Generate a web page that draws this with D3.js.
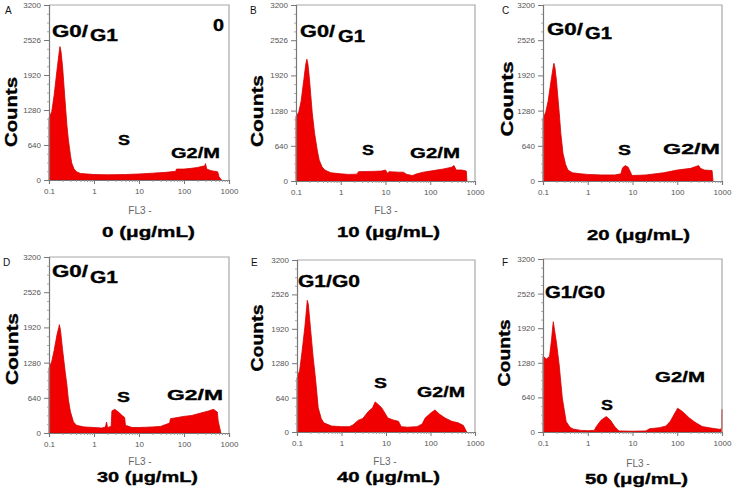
<!DOCTYPE html>
<html><head><meta charset="utf-8">
<script src="https://cdn.jsdelivr.net/npm/d3@7"></script>
<style>
html,body{margin:0;padding:0;background:#fff;}
svg{display:block;}
text{font-family:"Liberation Sans",Arial,sans-serif;}
</style></head>
<body>
<svg id="chart" width="743" height="492"></svg>
<script>
// ---------- data ----------
const fl3A = [0.1,0.1,0.115,0.13,0.15,0.165,0.175,0.185,0.2,0.227,0.25,0.27,0.3,0.32,0.36,0.41,0.5,0.7,1,2,5,10,20,40,66,68,100,150,200,290,300,320,400,560,600,680];
const countsA = [0,1130,1250,1550,2000,2280,2440,2350,2080,1460,1000,730,450,310,200,150,120,110,100,95,100,110,125,140,160,200,200,215,230,260,300,200,170,150,60,0];

const fl3B = [0.1,0.1,0.115,0.13,0.15,0.165,0.175,0.185,0.2,0.23,0.26,0.3,0.33,0.38,0.44,0.6,1,1.5,2.3,2.5,5,8,10,11,12,20,25,30,40,50,70,100,200,300,340,380,500,640,660];
const countsB = [0,1170,1250,1450,1850,2120,2215,2120,1850,1250,870,550,380,260,200,150,130,120,125,170,175,180,200,140,170,160,160,120,100,130,160,180,220,250,280,200,200,180,0];

const fl3C = [0.1,0.1,0.115,0.13,0.15,0.165,0.175,0.185,0.2,0.23,0.25,0.28,0.32,0.36,0.45,0.7,1,2,4,5.5,6,6.9,8,9.5,10,20,50,100,200,300,330,400,600,630];
const countsC = [0,1140,1250,1450,1800,2020,2140,2060,1820,1250,870,500,300,200,150,130,120,110,110,130,240,280,250,120,100,110,150,200,230,280,230,200,190,0];

const fl3D = [0.1,0.1,0.115,0.13,0.15,0.165,0.17,0.18,0.2,0.23,0.25,0.27,0.3,0.35,0.41,0.6,1,1.5,1.8,1.9,2,2.4,2.5,2.9,3.5,4.2,4.8,5,7,10,20,30,48,50,96,150,228,350,450,550,575,660];
const countsD = [0,1180,1300,1500,1780,1920,1970,1870,1520,1100,870,600,385,200,140,110,100,90,110,200,100,120,400,430,380,320,280,140,100,100,110,120,180,260,300,320,360,400,430,380,220,0];

const fl3E = [0.1,0.1,0.115,0.13,0.15,0.165,0.17,0.18,0.2,0.23,0.26,0.3,0.35,0.4,0.6,1,1.5,1.8,2.4,3,4,5,5.7,6.5,8,11,15,19,22,30,50,65,76,100,126,160,213,300,420,550,650];
const countsE = [0,1000,1150,1500,1950,2320,2450,2370,1950,1400,1000,450,250,170,110,100,100,130,220,250,380,450,560,520,450,260,220,200,100,90,100,150,260,350,410,330,260,200,170,120,0];

const fl3F = [0.1,0.1,0.12,0.14,0.155,0.165,0.17,0.18,0.2,0.23,0.27,0.33,0.4,0.47,0.7,1,1.4,1.55,2,2.6,3.2,4,5,10,20,24,40,56,70,80,102,130,186,250,363,600,870,990,1000,1000];
const countsF = [0,1400,1350,1400,1700,1950,2040,1900,1650,1240,630,190,90,55,30,25,30,100,220,285,220,100,20,15,20,60,80,110,200,285,440,380,260,180,100,70,50,60,420,0];

const panelLetters = ["A","B","C","D","E","F"];
const doseLabels = ["0 (μg/mL)","10 (μg/mL)","20 (μg/mL)","30 (μg/mL)","40 (μg/mL)","50 (μg/mL)"];
const phaseG = ["G0/G1","G0/G1","G0/G1","G0/G1","G1/G0","G1/G0"];
const phaseS = "S";
const phaseG2 = "G2/M";
const yTickValues = [0,640,1280,1920,2560,3200];
const yTickLabels = ["0","640","1280","1920","2526","3200"];
const xTickValues = [0.1,1,10,100,1000];
const xTickLabels = ["0.1","1","10","100","1000"];
const yLabel = "Counts";
const xLabel = "FL3 -";
const cornerNote = "0";

const fl3 = [fl3A,fl3B,fl3C,fl3D,fl3E,fl3F];
const counts = [countsA,countsB,countsC,countsD,countsE,countsF];

// ---------- layout ----------
const layout = [
 {l:49,t:5,r:229,b:180, letter:[5,14], counts:[17,112,70], g:[[52,37,36],[90,41,28]], s:[118,145,12], g2:[171,158,49], fl:[140,214], dose:[102,237,93], note:[213,31,11]},
 {l:296,t:5,r:475,b:181, letter:[250,14], counts:[263,111,72], g:[[300,37,35],[338,42,27]], s:[362,155,12], g2:[410,158,50], fl:[386,214], dose:[337,237,103]},
 {l:543,t:5,r:722,b:181, letter:[502,14], counts:[513,99,75], g:[[547,35,36],[585,39,27]], s:[618,155,13], g2:[663,154,57], fl:null, dose:[587,240,103]},
 {l:49,t:257,r:229,b:433, letter:[3,266], counts:[18,349,72], g:[[52,277,36],[90,283,28]], s:[117,402,13], g2:[167,400,56], fl:[140,465], dose:[97,482,101]},
 {l:297,t:260,r:475,b:432, letter:[251,266], counts:[263,338,67], g:[[298,287,62]], s:[374,388,13], g2:[417,397,48], fl:[385,465], dose:[337,482,103]},
 {l:543,t:259,r:722,b:432, letter:[502,266], counts:[510,353,67], g:[[545,298,60]], s:[601,410,12], g2:[655,382,50], fl:[638,467], dose:[585,484,103]}
];

const svg = d3.select("#chart");
const baseFont = "'Liberation Sans',Arial,sans-serif";

function boldText(g, x, y, size, len, str) {
  return g.append("text").attr("x",x).attr("y",y).attr("font-size",size).attr("font-weight","bold")
    .attr("textLength",len).attr("lengthAdjust","spacingAndGlyphs")
    .attr("fill","#000").attr("stroke","#000").attr("stroke-width",0.35).text(str);
}

layout.forEach((L,i)=>{
  const x = d3.scaleLog().domain([0.1,1000]).range([L.l,L.r]);
  const y = d3.scaleLinear().domain([0,3200]).range([L.b,L.t]);
  const g = svg.append("g");

  // histogram
  const pts = fl3[i].map((v,k)=>[v,counts[i][k]]);
  const area = d3.area().x(d=>x(d[0])).y0(y(0)).y1(d=>y(d[1]));
  g.append("path").datum(pts).attr("d",area)
    .attr("fill","#f00000").attr("stroke","#d40000").attr("stroke-width",0.8).attr("stroke-linejoin","round");

  // frame top/right
  g.append("path").attr("d",`M${L.l},${L.t}H${L.r}V${L.b}`).attr("fill","none").attr("stroke","#a8a8a8").attr("stroke-width",1.2);

  // y axis
  const yAxis = d3.axisLeft(y).tickValues(yTickValues).tickSize(5).tickPadding(3)
      .tickFormat((d,k)=>yTickLabels[k]);
  const ya = g.append("g").attr("transform",`translate(${L.l},0)`).call(yAxis);
  ya.select(".domain").attr("stroke","#777").attr("stroke-width",1.2);
  ya.selectAll(".tick line").attr("stroke","#777");
  ya.selectAll("text").attr("font-size",8).attr("fill","#555").attr("font-family",baseFont);
  const yMinor = d3.range(0,3201,160).filter(v=>yTickValues.indexOf(v)<0);
  const ym = g.append("g").attr("transform",`translate(${L.l},0)`).call(d3.axisLeft(y).tickValues(yMinor).tickSize(2).tickFormat(""));
  ym.select(".domain").remove();
  ym.selectAll(".tick line").attr("stroke","#aaa");

  // x axis
  const xAxis = d3.axisBottom(x).tickValues(xTickValues).tickSize(4).tickPadding(4)
      .tickFormat((d,k)=>xTickLabels[k]);
  const xa = g.append("g").attr("transform",`translate(0,${L.b})`).call(xAxis);
  xa.select(".domain").attr("stroke","#777").attr("stroke-width",1.2);
  xa.selectAll(".tick line").attr("stroke","#777");
  xa.selectAll("text").attr("font-size",8).attr("fill","#555").attr("font-family",baseFont);
  const xMinor = x.ticks().filter(v=>xTickValues.indexOf(v)<0);
  const xm = g.append("g").attr("transform",`translate(0,${L.b})`).call(d3.axisBottom(x).tickValues(xMinor).tickSize(2).tickFormat(""));
  xm.select(".domain").remove();
  xm.selectAll(".tick line").attr("stroke","#999");

  // panel letter
  g.append("text").attr("x",L.letter[0]).attr("y",L.letter[1]).attr("font-size",10).attr("fill","#111").text(panelLetters[i]);

  // Counts
  g.append("text").attr("transform",`translate(${L.counts[0]},${L.counts[1]}) rotate(-90)`)
    .attr("text-anchor","middle").attr("font-size",17).attr("font-weight","bold")
    .attr("textLength",L.counts[2]).attr("lengthAdjust","spacingAndGlyphs")
    .attr("fill","#000").attr("stroke","#000").attr("stroke-width",0.35).text(yLabel);

  // phase labels
  const gParts = L.g.length===2 ? [phaseG[i].slice(0,3), phaseG[i].slice(3)] : [phaseG[i]];
  L.g.forEach((p,k)=> boldText(g, p[0], p[1], 16, p[2], gParts[k]));
  boldText(g, L.s[0], L.s[1], 15, L.s[2], phaseS);
  boldText(g, L.g2[0], L.g2[1], 15.5, L.g2[2], phaseG2);
  if (L.note) boldText(g, L.note[0], L.note[1], 16, L.note[2], cornerNote);
  if (L.fl) {
    g.append("text").attr("x",L.fl[0]).attr("y",L.fl[1]).attr("text-anchor","middle").attr("font-size",10)
      .attr("fill","#666").text(xLabel);
  }
  boldText(g, L.dose[0], L.dose[1], 15, L.dose[2], doseLabels[i]);
});
</script>
</body></html>
